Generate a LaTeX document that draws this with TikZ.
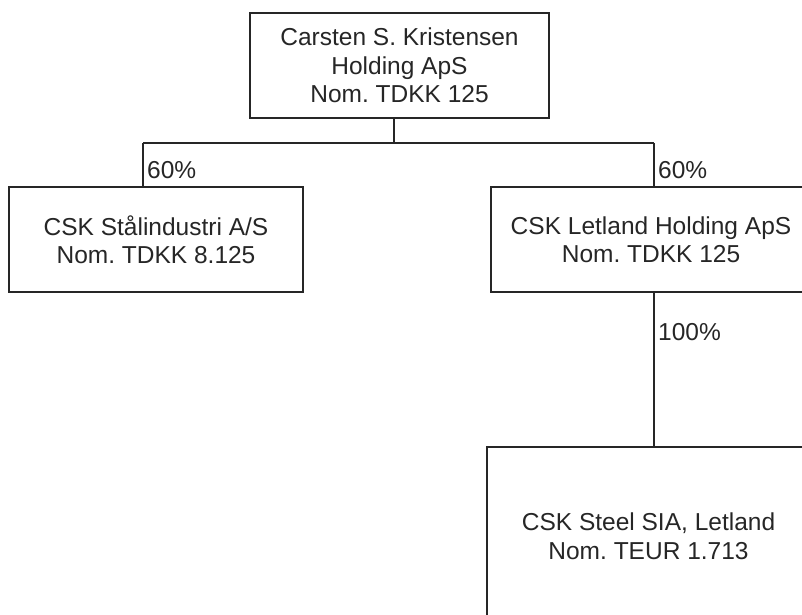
\documentclass[tikz,border=0pt]{standalone}
\usepackage{fontspec}
\setmainfont{Liberation Sans}
\frenchspacing
\begin{document}
\begin{tikzpicture}[x=1pt,y=-1pt,
  box/.style={draw=black!85, line width=1.6pt, rectangle, align=center, inner sep=0pt,
    font=\fontsize{24.5}{28.5}\selectfont, text=black!85},
  pct/.style={anchor=west, inner sep=0pt, font=\fontsize{24.5}{28.5}\selectfont, text=black!85},
  link/.style={draw=black!85, line width=1.6pt}]
\clip (0,0) rectangle (802,614);
\useasboundingbox (0,0) rectangle (802,614);
\node[box, minimum width=299pt, minimum height=105pt] (top) at (399.5,65.5)
  {Carsten S. Kristensen\\Holding ApS\\Nom. TDKK 125};
\node[box, minimum width=294pt, minimum height=105pt] (left) at (156,239.5)
  {CSK Stålindustri A/S\\Nom. TDKK 8.125};
\node[box, minimum width=320pt, minimum height=105pt] (right) at (651,239.5)
  {CSK Letland Holding ApS\\Nom. TDKK 125};
\node[box, minimum width=323pt, minimum height=178pt] (steel) at (648.5,536)
  {CSK Steel SIA, Letland\\Nom. TEUR 1.713};
\coordinate (j) at (394,143);
\coordinate (jl) at (143,143);
\coordinate (jr) at (654,143);
\draw[link] (top.south -| j) -- (j);
\draw[link] (jl) -- (jr);
\draw[link] (jl) -- (jl |- left.north);
\draw[link] (jr) -- (jr |- right.north);
\draw[link] (jr |- right.south) -- (jr |- steel.north);
\node[pct] (p1) at (147,170) {60\%};
\node[pct] (p2) at (658,170) {60\%};
\node[pct] (p3) at (658,332) {100\%};
\end{tikzpicture}
\end{document}
